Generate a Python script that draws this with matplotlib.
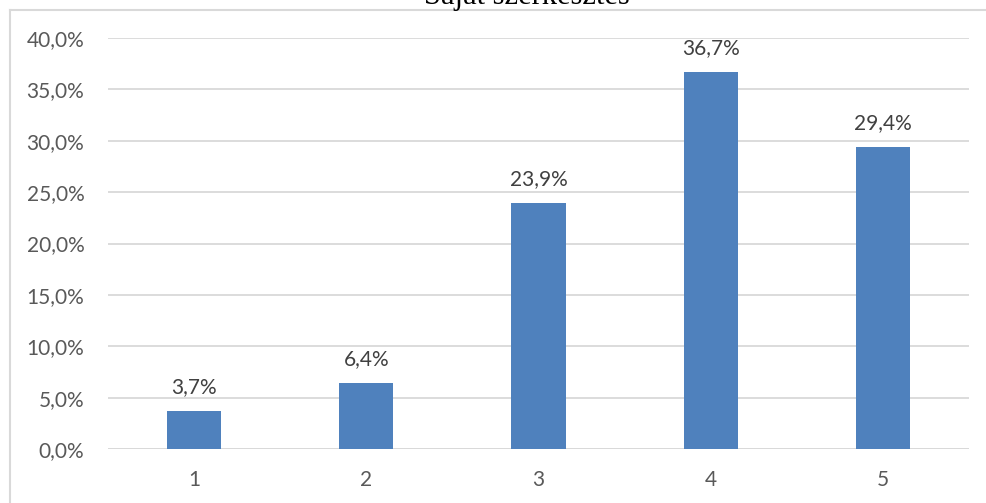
import matplotlib
matplotlib.use("Agg")
import matplotlib.pyplot as plt
from matplotlib.lines import Line2D
from matplotlib.ticker import FuncFormatter

categories = ["1", "2", "3", "4", "5"]
values = [3.7, 6.4, 23.9, 36.7, 29.4]
y_ticks = [0, 5, 10, 15, 20, 25, 30, 35, 40]

W, H = 987, 503
fig = plt.figure(figsize=(W / 100, H / 100), dpi=100)
fig.patch.set_facecolor("white")

# plot area in pixel coordinates
left, right, top, bottom = 108, 969, 38, 449
ax = fig.add_axes([left / W, 1 - bottom / H, (right - left) / W, (bottom - top) / H])

x = list(range(len(categories)))
ax.bar(x, values, width=0.315, color="#4f81bd", zorder=3)
ax.set_xlim(-0.5, len(categories) - 0.5)
ax.set_ylim(0, 40)
ax.set_yticks(y_ticks)
ax.yaxis.set_major_formatter(FuncFormatter(lambda v, p: f"{v:.1f}%".replace(".", ",")))
ax.set_xticks(x)
ax.set_xticklabels(categories)

font = "Lato"
for lbl in ax.get_yticklabels() + ax.get_xticklabels():
    lbl.set_fontfamily(font)
    lbl.set_fontsize(15)
    lbl.set_color("#595959")

ax.tick_params(axis="both", length=0)
ax.tick_params(axis="y", pad=17)
ax.tick_params(axis="x", pad=15)
ax.grid(axis="y", color="#d9d9d9", linewidth=1.3, zorder=0)
for s in ax.spines.values():
    s.set_visible(False)
ax.axhline(0, color="#d9d9d9", linewidth=1.3, zorder=2)

for xi, v in zip(x, values):
    ax.annotate(f"{v:.1f}%".replace(".", ","), (xi, v), xytext=(0, 10),
                textcoords="offset points", ha="center", va="bottom",
                fontfamily=font, fontsize=15, color="#404040")

# outer frame (left and top edges)
fig.add_artist(Line2D([9.5 / W, 9.5 / W], [0, 1 - 9.5 / H], transform=fig.transFigure,
                      color="#d9d9d9", linewidth=1.5))
fig.add_artist(Line2D([9.5 / W, 1], [1 - 9.5 / H, 1 - 9.5 / H], transform=fig.transFigure,
                      color="#d9d9d9", linewidth=1.5))

fig.text(527 / W, 1 - 4 / H, "Saját szerkesztés", ha="center", va="baseline",
         fontfamily="Liberation Serif", fontsize=22, color="black")

fig.savefig("out.png", dpi=100)
